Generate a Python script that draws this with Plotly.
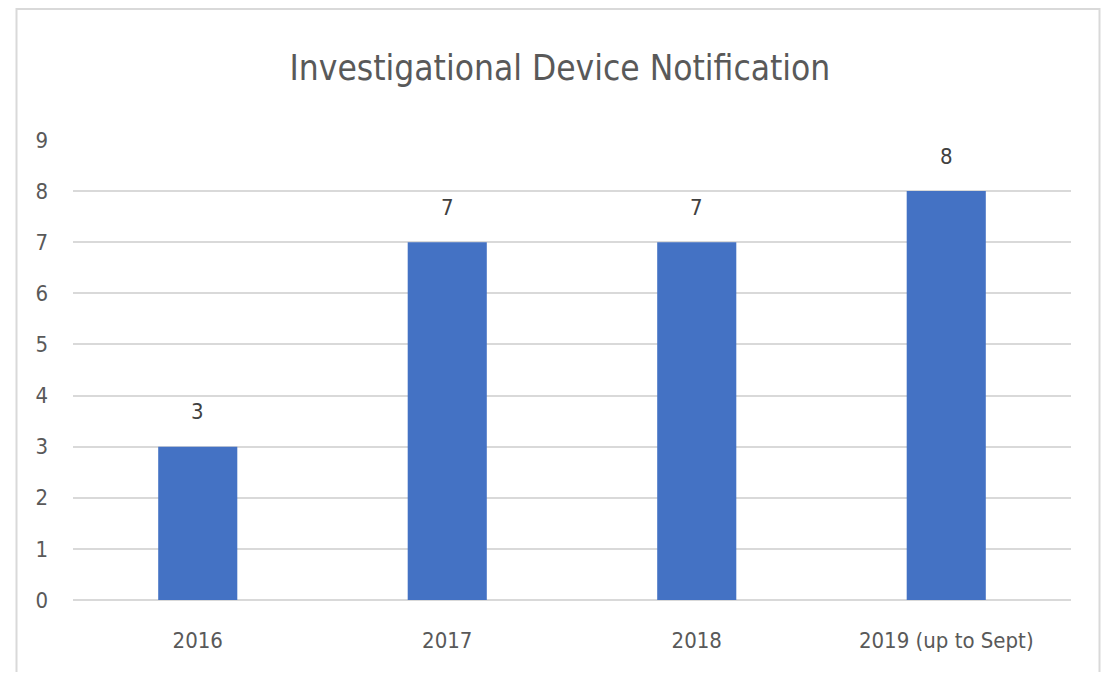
import plotly.graph_objects as go

categories = ["2016", "2017", "2018", "2019 (up to Sept)"]
values = [3, 7, 7, 8]
y_ticks = [0, 1, 2, 3, 4, 5, 6, 7, 8, 9]

OFF = 8  # default page margin of the html body
W, H = 1109 - 2 * OFF, 680 - 2 * OFF
L, R, T, B = 73 - OFF, 1109 - 1071 - OFF, 140 - OFF, 680 - 600 - OFF
pw = W - L - R
ph = H - T - B

def px_x(p):
    return (p - OFF - L) / pw

def px_y(p):
    return (H - B - (p - OFF)) / ph

FONT = "DejaVu Sans Condensed, Liberation Sans Narrow, Open Sans, sans-serif"

fig = go.Figure(go.Bar(
    x=categories, y=values,
    marker=dict(color="#4472C4", line=dict(width=0)),
))

fig.update_layout(
    width=W, height=H,
    margin=dict(l=L, r=R, t=T, b=B),
    paper_bgcolor="white", plot_bgcolor="white",
    bargap=0.683,
    showlegend=False,
    title=dict(text="Investigational Device Notification", x=0.505, xanchor="center",
               y=1 - (68 - OFF) / H, yanchor="middle",
               font=dict(size=35, color="#595959", family=FONT)),
    xaxis=dict(type="category", showgrid=False, showline=False, ticks="", ticklabelstandoff=25,
               tickfont=dict(size=22, color="#595959", family=FONT)),
    yaxis=dict(range=[0, 9], tickvals=y_ticks, showgrid=True, gridcolor="#D9D9D9",
               gridwidth=2, zeroline=True, zerolinecolor="#D9D9D9", zerolinewidth=2,
               showline=False, ticks="", ticklabelstandoff=24,
               tickfont=dict(size=22, color="#595959", family=FONT)),
    annotations=[dict(x=i, y=v, xref="x", yref="y", text=str(v), showarrow=False,
                      yshift=35, font=dict(size=22, color="#404040", family=FONT))
                 for i, v in enumerate(values)],
    shapes=[dict(type="rect", xref="paper", yref="paper",
                 x0=px_x(16.5), x1=px_x(1099.5), y0=px_y(700), y1=px_y(9),
                 line=dict(color="#D9D9D9", width=2), fillcolor="rgba(0,0,0,0)",
                 layer="below")],
)

fig.write_html("out.html", config={"displayModeBar": False})
